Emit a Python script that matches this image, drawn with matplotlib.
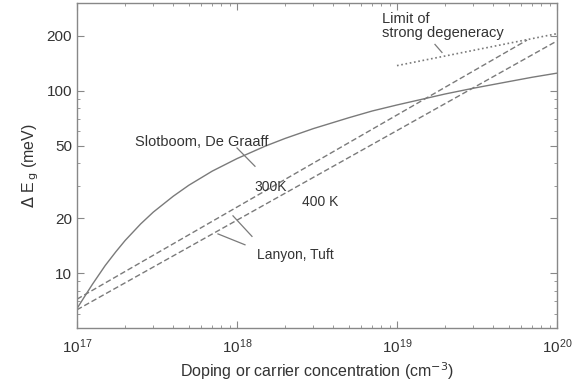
import matplotlib
matplotlib.use("Agg")
import matplotlib.pyplot as plt
from matplotlib.ticker import LogLocator, FixedLocator, FixedFormatter, NullFormatter

plt.rcParams['font.family'] = ['Liberation Sans', 'DejaVu Sans']

# Slotboom, De Graaff (solid)
sg_n = [1e17, 1.1e17, 1.25e17, 1.5e17, 1.75e17, 2e17, 2.5e17, 3e17, 4e17, 5e17, 7e17,
        1e18, 1.5e18, 2e18, 3e18, 5e18, 7e18, 1e19, 2e19, 3e19, 5e19, 7e19, 1e20]
sg_e = [6.4, 7.3, 8.7, 11.0, 13.1, 15.1, 18.6, 21.6, 26.4, 30.3, 36.2,
        42.4, 49.6, 54.7, 61.9, 71.0, 77.3, 83.4, 95.8, 103.0, 112.0, 118.3, 124.6]

# Lanyon, Tuft (dashed)
lt300_n = [1e17, 6.5e19]
lt300_e = [7.2, 189]
lt400_n = [1e17, 1e20]
lt400_e = [6.3, 187]

# Limit of strong degeneracy (dotted)
lim_n = [1e19, 1e20]
lim_e = [137, 205]

yticks = [10, 20, 50, 100, 200]
ytick_labels = ['10', '20', '50', '100', '200']

line_col = '#7a7a7a'
text_col = '#333333'

fig = plt.figure(figsize=(5.85, 3.86), dpi=100)
ax = fig.add_axes([0.1316, 0.150, 0.8205, 0.841])

ax.plot(sg_n, sg_e, color=line_col, lw=1.0)
ax.plot(lt300_n, lt300_e, color=line_col, lw=1.0, dashes=(4, 2))
ax.plot(lt400_n, lt400_e, color=line_col, lw=1.0, dashes=(4, 2))
ax.plot(lim_n, lim_e, color=line_col, lw=1.2, dashes=(1, 1.6))

ax.set_xscale('log')
ax.set_yscale('log')
ax.set_xlim(1e17, 1e20)
ax.set_ylim(5, 300)

ax.xaxis.set_major_locator(LogLocator(base=10, numticks=10))
ax.xaxis.set_minor_locator(LogLocator(base=10, subs=range(2, 10), numticks=20))
ax.xaxis.set_minor_formatter(NullFormatter())
ax.yaxis.set_major_locator(FixedLocator(yticks))
ax.yaxis.set_major_formatter(FixedFormatter(ytick_labels))
ax.yaxis.set_minor_locator(LogLocator(base=10, subs=range(2, 10), numticks=20))
ax.yaxis.set_minor_formatter(NullFormatter())

ax.tick_params(which='both', direction='in', top=True, right=True, color='#888888',
               labelcolor=text_col, labelsize=11)
ax.tick_params(which='major', length=5, width=0.8)
ax.tick_params(which='minor', length=2.5, width=0.6)
ax.tick_params(axis='x', pad=7)
for s in ax.spines.values():
    s.set_color('#888888')
    s.set_linewidth(1.0)

ax.set_xlabel('Doping or carrier concentration (cm$^{-3}$)', fontsize=11.5, color=text_col, labelpad=3)
ax.set_ylabel('$\\Delta$ E$_{\\,\\rm g}$ (meV)', fontsize=11.5, color=text_col, labelpad=4)

# annotations
ax.text(10**(17 + (135 - 77) / 160), 52, 'Slotboom, De Graaff', fontsize=10.5, color=text_col,
        ha='left', va='center')
ax.plot([10**(17 + (237 - 77) / 160), 10**(17 + (255 - 77) / 160)], [48.5, 38.5], color=line_col, lw=0.9)

ax.text(10**(17 + (271 - 77) / 160), 29.5, '300K', fontsize=10, color=text_col, ha='center', va='center')
ax.text(10**(17 + (320 - 77) / 160), 24.5, '400 K', fontsize=10, color=text_col, ha='center', va='center')
ax.text(10**(17 + (257 - 77) / 160), 12.6, 'Lanyon, Tuft', fontsize=10, color=text_col, ha='left', va='center')
ax.plot([10**(17 + (233 - 77) / 160), 10**(17 + (252 - 77) / 160)], [20.6, 15.9], color=line_col, lw=0.9)
ax.plot([10**(17 + (218 - 77) / 160), 10**(17 + (245 - 77) / 160)], [16.4, 14.3], color=line_col, lw=0.9)

ax.text(10**(17 + (382 - 77) / 160), 10**(2 + (91 - 13) / 182), 'Limit of\nstrong degeneracy',
        fontsize=10.5, color=text_col, ha='left', va='top', linespacing=0.95)
ax.plot([10**(17 + (435 - 77) / 160), 10**(17 + (442 - 77) / 160)],
        [10**(2 + (91 - 45) / 182), 10**(2 + (91 - 53) / 182)], color=line_col, lw=0.9)

fig.savefig('out.png', dpi=100)
